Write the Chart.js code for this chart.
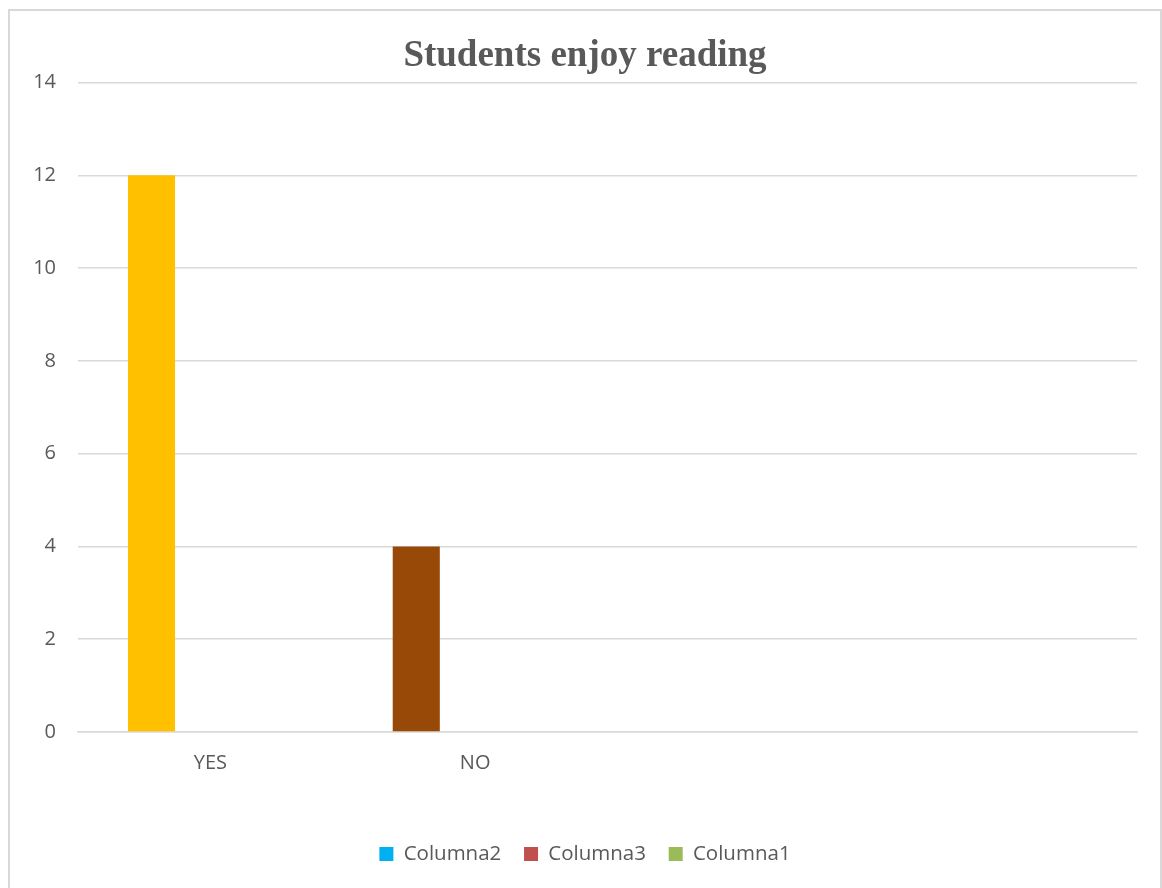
<!DOCTYPE html>
<html lang="en">
<head>
  <meta charset="UTF-8">
  <title>Students enjoy reading</title>
  <script src="https://cdn.jsdelivr.net/npm/chart.js"></script>
  <style>
    body {
      margin: 0;
      background: #fff;
      width: 1162px;
      height: 888px;
      overflow: hidden;
      position: relative;
    }

    .frame {
      position: absolute;
      left: 8px;
      top: 9px;
      width: 1154px;
      height: 900px;
      border: 2px solid #d9d9d9;
      box-sizing: border-box;
    }

    .holder {
      position: absolute;
      left: 9px;
      top: 10px;
      width: 1152px;
      height: 878px;
    }
  </style>
</head>
<body>
  <div class="frame"></div>
  <div class="holder">
    <canvas id="readingChart" width="1152" height="878"></canvas>
  </div>

  <script>
    // Data
    const categories = ['YES', 'NO', '', ''];
    const seriesNames = ['Columna2', 'Columna3', 'Columna1'];
    const seriesColors = ['#00B0F0', '#C0504D', '#9BBB59'];
    const columna2 = [12, 4, null, null];
    const columna3 = [null, null, null, null];
    const columna1 = [null, null, null, null];
    const pointColors = ['#FFC000', '#984807', '#FFC000', '#FFC000'];
    const yMin = 0;
    const yMax = 14;
    const yStep = 2;

    const textGray = '#595959';
    const gridGray = '#d9d9d9';

    const ctx = document.getElementById('readingChart').getContext('2d');

    new Chart(ctx, {
      type: 'bar',
      data: {
        labels: categories,
        datasets: [
          { label: seriesNames[0], data: columna2, backgroundColor: pointColors },
          { label: seriesNames[1], data: columna3, backgroundColor: seriesColors[1] },
          { label: seriesNames[2], data: columna1, backgroundColor: seriesColors[2] },
        ],
      },
      options: {
        responsive: false,
        animation: false,
        categoryPercentage: 0.667,
        barPercentage: 0.8,
        layout: {
          padding: { left: 24, right: 24, top: 0, bottom: 13.75 },
        },
        scales: {
          x: {
            grid: { display: false, drawTicks: false },
            border: { display: true, color: gridGray, width: 1.5 },
            ticks: {
              color: textGray,
              font: { family: '"Open Sans", sans-serif', size: 20 },
              padding: 19.5,
              maxRotation: 0,
            },
            afterFit: (scale) => { scale.height = 89; },
          },
          y: {
            min: yMin,
            max: yMax,
            grid: { color: gridGray, lineWidth: 1.5, drawTicks: false },
            border: { display: false },
            ticks: {
              stepSize: yStep,
              color: textGray,
              font: { family: '"Open Sans", sans-serif', size: 20 },
              padding: 22,
            },
            afterFit: (scale) => { scale.width = 45; },
          },
        },
        plugins: {
          tooltip: { enabled: false },
          title: {
            display: true,
            text: 'Students enjoy reading',
            color: textGray,
            font: { family: '"Liberation Serif", "Times New Roman", serif', size: 37, weight: 'bold' },
            padding: { top: 24, bottom: 4.2 },
          },
          legend: {
            position: 'bottom',
            labels: {
              color: textGray,
              font: { family: '"Open Sans", sans-serif', size: 20.5 },
              boxWidth: 14,
              boxHeight: 14,
              padding: 22.75,
              generateLabels: () => seriesNames.map((name, i) => ({
                text: name,
                fillStyle: seriesColors[i],
                strokeStyle: seriesColors[i],
                lineWidth: 0,
                hidden: false,
                datasetIndex: i,
                fontColor: textGray,
              })),
            },
          },
        },
      },
    });
  </script>
</body>
</html>
